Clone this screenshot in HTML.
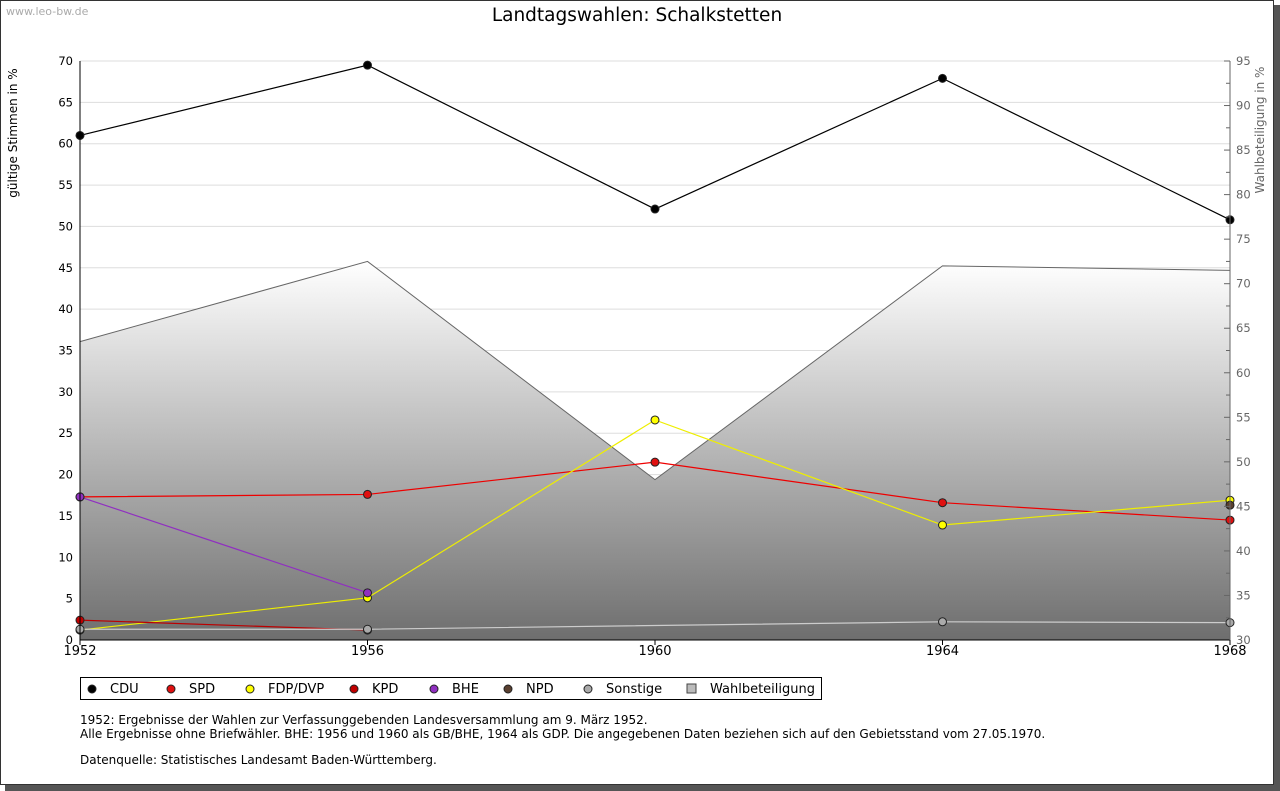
<!DOCTYPE html>
<html><head><meta charset="utf-8"><style>
body{margin:0;background:#fff;font-family:"DejaVu Sans","Liberation Sans",sans-serif;}
#wrap{position:relative;width:1280px;height:791px;overflow:hidden;}
</style></head><body>
<div id="wrap">
<svg id="c" width="1280" height="791" xmlns="http://www.w3.org/2000/svg" font-family="'DejaVu Sans','Liberation Sans',sans-serif">
<defs>
<linearGradient id="g" x1="0" y1="0" x2="0" y2="1">
<stop offset="0" stop-color="#ffffff"/><stop offset="1" stop-color="#6e6e6e"/>
</linearGradient>
</defs>
<rect x="5" y="5" width="1275" height="786" fill="#555"/>
<rect x="0.5" y="0.5" width="1273" height="784" fill="#fff" stroke="#333"/>
<text x="6" y="15" font-size="11" fill="#aaa">www.leo-bw.de</text>
<text x="637" y="21" font-size="18.5" text-anchor="middle" fill="#000">Landtagswahlen: Schalkstetten</text>
<text transform="translate(17,133) rotate(-90)" font-size="12" text-anchor="middle">gültige Stimmen in %</text>
<text transform="translate(1264,130) rotate(-90)" font-size="12" fill="#666" text-anchor="middle">Wahlbeteiligung in %</text>
<g id="grid"></g><g id="area"></g><g id="lines"></g><g id="axes"></g>
<g>
<rect x="80.5" y="677.5" width="741" height="22" fill="#fff" stroke="#000"/>
<g id="leg"></g>
</g>
<text font-size="12" fill="#000">
<tspan x="80" y="724">1952: Ergebnisse der Wahlen zur Verfassunggebenden Landesversammlung am 9. März 1952.</tspan>
<tspan x="80" y="738">Alle Ergebnisse ohne Briefwähler. BHE: 1956 und 1960 als GB/BHE, 1964 als GDP. Die angegebenen Daten beziehen sich auf den Gebietsstand vom 27.05.1970.</tspan>
<tspan x="80" y="764">Datenquelle: Statistisches Landesamt Baden-Württemberg.</tspan>
</text>
</svg>
</div>
<script>
const years=[1952,1956,1960,1964,1968];
const cdu=[61.0,69.5,52.1,67.9,50.8];
const spd=[17.3,17.6,21.5,16.6,14.5];
const fdp=[1.2,5.1,26.6,13.9,16.9];
const kpd=[2.4,1.2,null,null,null];
const bhe=[17.3,5.7,null,null,null];
const npd=[null,null,null,null,16.3];
const sonst=[1.3,1.3,null,2.2,2.1];
const wahl=[63.5,72.5,48.0,72.0,71.5];
const leftTicks=[0,5,10,15,20,25,30,35,40,45,50,55,60,65,70];
const rightTicks=[30,35,40,45,50,55,60,65,70,75,80,85,90,95];
const NS="http://www.w3.org/2000/svg";
const X0=80,X1=1230,YB=640,YT=61;
const xs=y=>X0+(y-1952)/(1968-1952)*(X1-X0);
const yl=v=>YB-v/70*(YB-YT);
const yr=v=>YB-(v-30)/65*(YB-YT);
function mk(tag,attrs,parent){const e=document.createElementNS(NS,tag);for(const k in attrs)e.setAttribute(k,attrs[k]);document.getElementById(parent).appendChild(e);return e;}
leftTicks.forEach(t=>{
 if(t>0){const l=mk('line',{x1:X0,x2:X1,y1:yl(t),y2:yl(t),stroke:'#ddd'},'grid');
 
 }
 const tx=mk('text',{x:73,y:yl(t)+4,'font-size':11.5,'text-anchor':'end'},'axes');tx.textContent=t;
 
 
});
rightTicks.forEach(t=>{
 const tx=mk('text',{x:1236,y:yr(t)+4,'font-size':11.5,fill:'#666'},'axes');tx.textContent=t;
 
 
 mk('line',{x1:1224,x2:1230,y1:yr(t),y2:yr(t),stroke:'#666'},'axes');
 if(t<95) mk('line',{x1:1226,x2:1230,y1:yr(t+2.5),y2:yr(t+2.5),stroke:'#666'},'axes');
});
let d=`M${xs(years[0])},${YB}`;years.forEach((y,i)=>d+=`L${xs(y)},${yr(wahl[i])}`);d+=`L${xs(years[4])},${YB}Z`;
const ar=mk('path',{d:d,fill:'url(#g)'},'area');


let dl='';years.forEach((y,i)=>dl+=(i?'L':'M')+xs(y)+','+yr(wahl[i]));
mk('path',{d:dl,fill:'none',stroke:'#666'},'area');
mk('line',{x1:X0,x2:X0,y1:YT,y2:YB,stroke:'#000'},'axes');
mk('line',{x1:X0,x2:X1,y1:YB,y2:YB,stroke:'#000'},'axes');
mk('line',{x1:X1,x2:X1,y1:YT,y2:YB,stroke:'#666'},'axes');
years.forEach(y=>{mk('line',{x1:xs(y),x2:xs(y),y1:YB,y2:YB+5,stroke:'#000'},'axes');
 const tx=mk('text',{x:xs(y),y:655,'font-size':13,'text-anchor':'middle'},'axes');tx.textContent=y;
 
 });
const series=[
 ['cdu',cdu,'#000','#000','CDU'],['spd',spd,'#e00','#e01010','SPD'],['fdp',fdp,'#ee0','#ffff00','FDP/DVP'],
 ['kpd',kpd,'#b00','#c00000','KPD'],['bhe',bhe,'#9030c0','#9030c0','BHE'],['npd',npd,'#543','#5a4030','NPD'],
 ['sonstige',sonst,'#ccc','#aaa','Sonstige']];
series.forEach(([n,vals,lc,fc])=>{
 let p='',started=false;
 vals.forEach((v,i)=>{if(v==null){return;}p+=(started?'L':'M')+xs(years[i])+','+yl(v);started=true;});
 const l=mk('path',{d:p,fill:'none',stroke:lc,'stroke-width':1.2},'lines');
 
 
});
series.forEach(([n,vals,lc,fc])=>{
 vals.forEach((v,i)=>{if(v==null)return;
  const c=mk('circle',{cx:xs(years[i]),cy:yl(v),r:4,fill:fc,stroke:'#222','stroke-width':1},'lines');
  
  });
});
const legX=[92,171,250,354,434,508,588,692];
const legC=['#000','#e01010','#ffff00','#c00000','#9030c0','#5a4030','#aaa'];
const legL=['CDU','SPD','FDP/DVP','KPD','BHE','NPD','Sonstige','Wahlbeteiligung'];
legL.forEach((t,i)=>{
 if(i<7){mk('circle',{cx:legX[i],cy:689,r:4,fill:legC[i],stroke:'#222'},'leg');}
 else{mk('rect',{x:legX[i]-5,y:684,width:9,height:9,fill:'#bbb',stroke:'#444'},'leg');}
 const tx=mk('text',{x:legX[i]+18,y:693,'font-size':13},'leg');tx.textContent=t;
 
 
});
</script>
</body></html>
